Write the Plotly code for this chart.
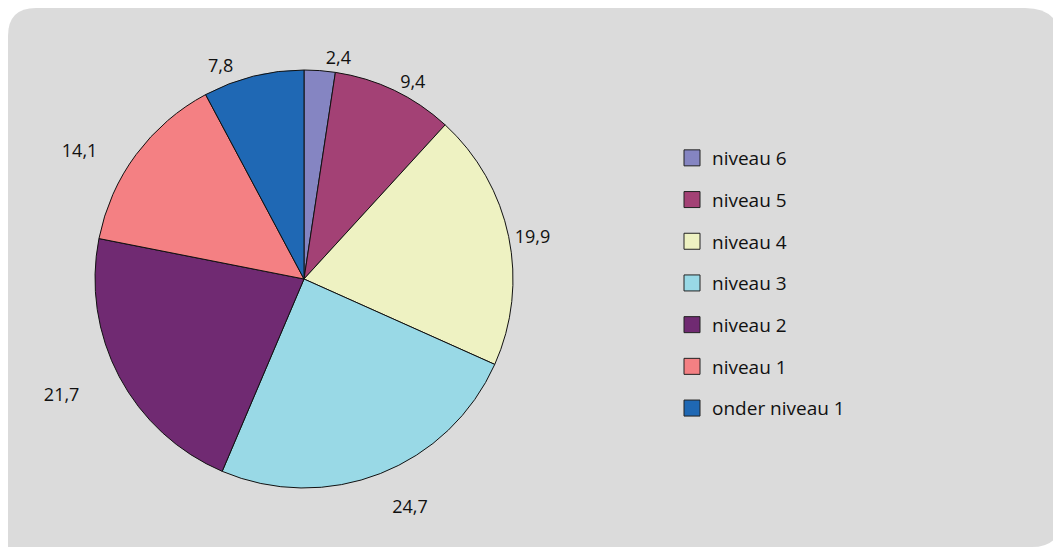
import plotly.graph_objects as go

labels = ["niveau 6", "niveau 5", "niveau 4", "niveau 3", "niveau 2", "niveau 1", "onder niveau 1"]
values = [2.4, 9.4, 19.9, 24.7, 21.7, 14.1, 7.8]
colors = ["#8585c2", "#a34175", "#eef2c2", "#99d9e6", "#702a72", "#f48083", "#1f68b4"]
value_text = ["2,4", "9,4", "19,9", "24,7", "21,7", "14,1", "7,8"]

# the page adds an 8px body margin, so the figure is drawn 8px smaller
W, H = 1053, 539
OFF = 8
FONT = "Open Sans, Noto Sans, sans-serif"
TXT = "#111111"

# label spacing (blank lines above / trailing non-breaking spaces) to push
# outside labels further from the rim, as in the original
NB = "\u00a0"
lines_above = [0, 0, 0, 1, 1, 0, 0]
trail = [0, 0, 0, 0, 6, 7, 3]
disp = [
    (NB + "<br>") * la + f"<span style='color:{TXT};fill-opacity:1'>{t}</span>" + NB * tr
    for t, la, tr in zip(value_text, lines_above, trail)
]

fig = go.Figure()

cx, cy, r = 304 - OFF, 279 - OFF, 209
fig.add_trace(go.Pie(
    labels=labels, values=values, text=disp,
    sort=False, direction="clockwise", rotation=0,
    marker=dict(colors=colors, line=dict(color="#111111", width=1)),
    textinfo="text", textposition="outside",
    # base colour transparent so no leader lines show; the numbers carry their own colour
    textfont=dict(family=FONT, size=18, color="rgba(0,0,0,0)"),
    showlegend=False, hoverinfo="label+value",
    domain=dict(x=[(cx - r) / W, (cx + r) / W], y=[1 - (cy + r) / H, 1 - (cy - r) / H]),
))

# legend entries (one group each to get the wide spacing of the original)
for i, (lab, col) in enumerate(zip(labels, colors)):
    fig.add_trace(go.Scatter(
        x=[None], y=[None], mode="markers", name=lab,
        legendgroup=f"g{i}",
        marker=dict(symbol="square", size=16, color=col,
                    line=dict(color="#222222", width=1)),
        hoverinfo="skip",
    ))

px = lambda v: v / W
py = lambda v: 1 - v / H
L, R, T, B = 0, W, 0, H
r1, r2, r3 = 28, 36, 29
path = (
    f"M {px(L)},{py(T + r1)} Q {px(L)},{py(T)} {px(L + r1)},{py(T)} "
    f"L {px(R - r2)},{py(T)} Q {px(R)},{py(T)} {px(R)},{py(T + r2)} "
    f"L {px(R)},{py(B - r3)} Q {px(R)},{py(B)} {px(R - r3)},{py(B)} "
    f"L {px(L)},{py(B)} Z"
)

fig.update_layout(
    width=W, height=H,
    margin=dict(l=0, r=0, t=0, b=0),
    paper_bgcolor="white", plot_bgcolor="rgba(0,0,0,0)",
    xaxis=dict(visible=False, range=[0, 1]),
    yaxis=dict(visible=False, range=[0, 1]),
    shapes=[dict(type="path", path=path, xref="paper", yref="paper",
                 fillcolor="#dbdbdb", line=dict(width=0), layer="below")],
    legend=dict(x=664 / W, y=1 - 131 / H, xanchor="left", yanchor="top",
                font=dict(family=FONT, size=19, color=TXT),
                tracegroupgap=14, bgcolor="rgba(0,0,0,0)",
                itemclick=False, itemdoubleclick=False),
    font=dict(family=FONT),
)

fig.write_html("out.html")
